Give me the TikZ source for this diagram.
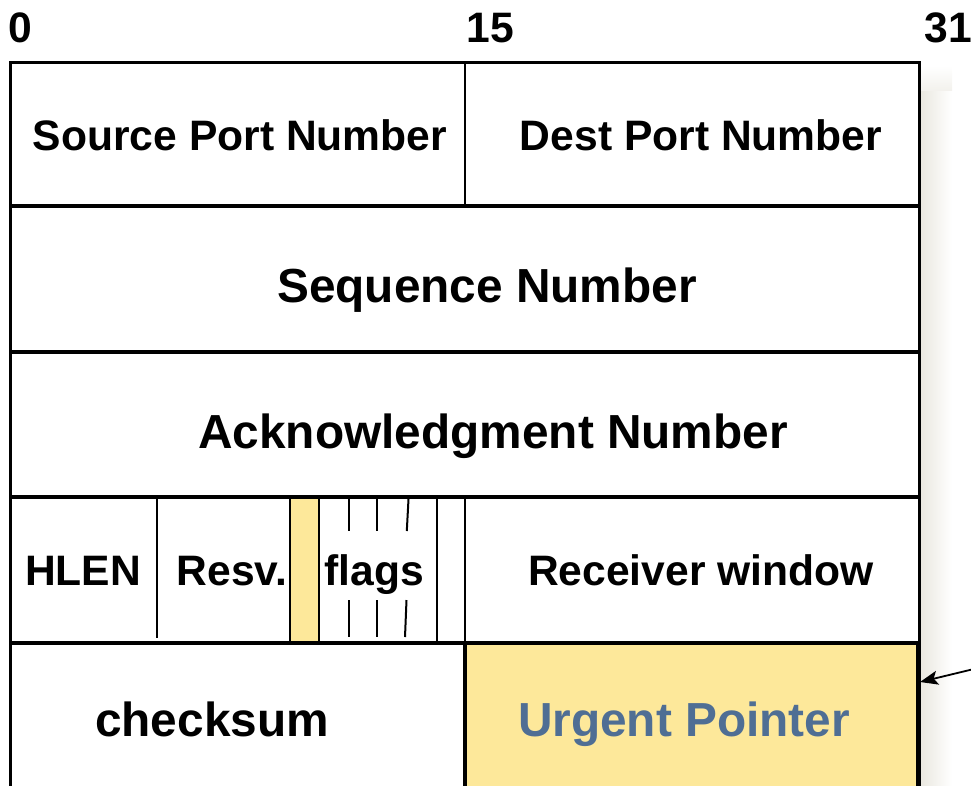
\documentclass[tikz,border=0pt]{standalone}
\usepackage{fontspec}
\setmainfont{Liberation Sans}
\usetikzlibrary{arrows.meta}
\definecolor{hilite}{RGB}{253,232,154}
\definecolor{urgentblue}{RGB}{79,110,148}
\definecolor{shadowgrey}{RGB}{234,232,224}
\tikzset{
  lbl/.style={font=\fontsize{42.6}{50}\selectfont\bfseries, inner sep=0pt, anchor=base},
  biglbl/.style={font=\fontsize{47.8}{56}\selectfont\bfseries, inner sep=0pt, anchor=base},
  frameline/.style={line width=3pt},
  rowline/.style={line width=3.6pt},
  thinline/.style={line width=2pt},
  tick/.style={line width=2pt},
}
\begin{document}
\begin{tikzpicture}[x=1pt,y=-1pt]
\useasboundingbox (0,0) rectangle (971,785);
\clip (0,0) rectangle (971,785);

% soft shadow along the right side of the header
\shade[left color=shadowgrey, right color=white] (921,90) rectangle (952,790);
\shade[top color=white, bottom color=shadowgrey!60] (921,66) rectangle (952,90.5);

% highlighted fields
\fill[hilite] (290,499) rectangle (319,641);
\fill[hilite] (465,643) rectangle (917,800);

% outer frame
\draw[frameline] (10,800) -- (10,62) -- (919,62) -- (919,800);

% row separators
\foreach \yy in {206,352,497,643}
  \draw[rowline] (10,\yy) -- (919,\yy);

% row 1 split at bit 15
\draw[thinline] (465,62) -- (465,206);

% row 4 fields
\draw[thinline] (157,497) -- (157,638);
\draw[thinline] (290,497) -- (290,641);
\draw[thinline] (319,497) -- (319,641);
\draw[thinline] (437,497) -- (437,641);
\draw[thinline] (465,497) -- (465,641);
% flag bit ticks
\draw[tick] (349,499) -- (349,531);
\draw[tick] (349,600) -- (349,637);
\draw[tick] (377,499) -- (377,531);
\draw[tick] (377,600) -- (377,637);
\draw[tick] (408.5,499) -- (406.8,531);
\draw[tick] (406.5,600) -- (405,637);

% row 5: urgent pointer border
\draw[line width=3.6pt] (465,643) -- (465,800);
\draw[line width=4pt] (917.5,643) -- (917.5,800);

% bit position labels
\node[lbl] (b0)  at (20,42)  {0};
\node[lbl] (b15) at (490,42) {15};
\node[lbl] (b31) at (948,42) {31};

% field labels
\node[lbl] (srcport) at (240,150) {Source Port Number};
\node[lbl] (dstport) at (701,150) {Dest Port Number};
\node[biglbl] (seqnum) at (487,302) {Sequence Number};
\node[biglbl] (acknum) at (493,448) {Acknowledgment Number};
\node[lbl] (hlen) at (83,585) {HLEN};
\node[lbl] (resv) at (232,585) {Resv.};
\node[lbl] (flags) at (374,585) {flags};
\node[lbl] (rwnd) at (701,585) {Receiver window};
\node[biglbl] (cksum) at (212,736) {checksum};
\node[biglbl, text=urgentblue] (urgptr) at (684,736) {Urgent Pointer};

% pointer arrow to the urgent pointer field
\coordinate (arrowfrom) at (978,668);
\coordinate (arrowto) at (920,682);
\draw[line width=1.8pt, -{Stealth[length=18pt,width=14pt,inset=4pt]}] (arrowfrom) -- (arrowto);
\end{tikzpicture}
\end{document}
